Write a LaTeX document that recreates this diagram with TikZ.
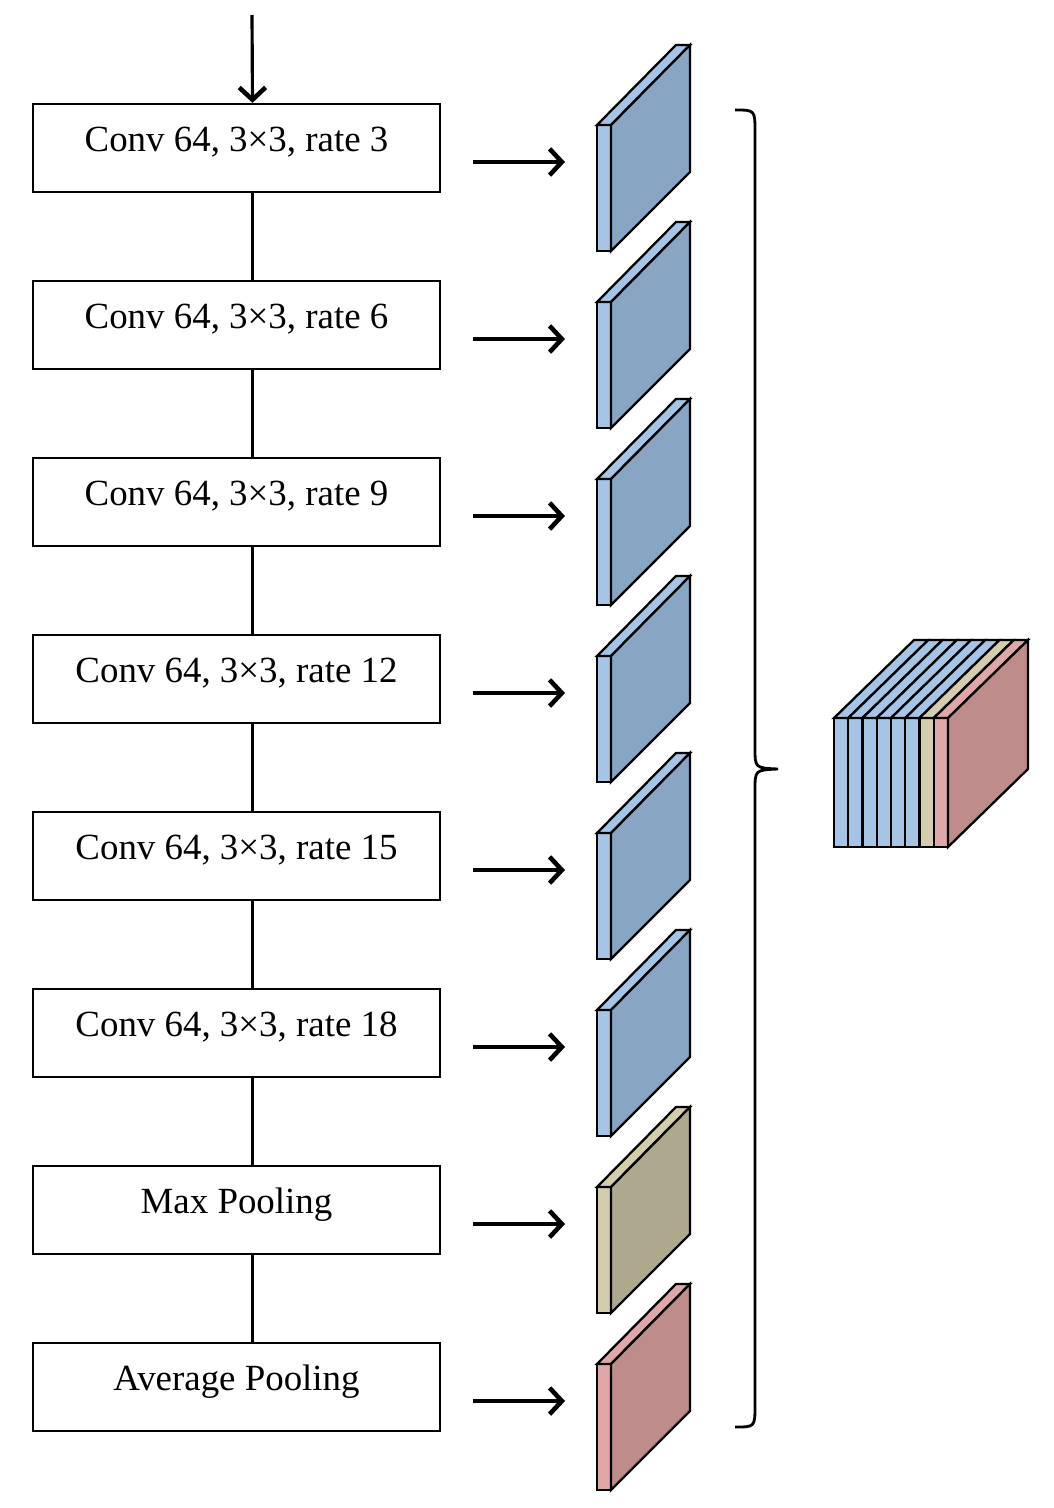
\documentclass[tikz,border=0pt]{standalone}
\usepackage{fontspec}
\setmainfont{Liberation Serif}
\usetikzlibrary{arrows.meta, calc}
\definecolor{slabblue}{RGB}{166,197,230}
\definecolor{slabblueS}{RGB}{136,166,196}
\definecolor{slabtan}{RGB}{211,205,173}
\definecolor{slabtanS}{RGB}{174,168,142}
\definecolor{slabpink}{RGB}{223,167,167}
\definecolor{slabpinkS}{RGB}{190,140,138}

\begin{document}
\begin{tikzpicture}[x=0.02cm, y=-0.02cm,
  layer/.style={draw, line width=1.3pt, minimum width=8.14cm, minimum height=1.76cm,
                inner sep=0pt, text height=14pt, text depth=10pt,
                font=\fontsize{21}{24}\selectfont},
  arr/.style={-{Straight Barb[length=7pt, width=15pt, line width=2.6pt]}, line width=1.8pt},
  link/.style={line width=1.3pt},
  face/.style={draw, line width=1.3pt, line join=miter}
]
  \useasboundingbox (0,0) rectangle (1054,1508);

  %% layers, arrows and output slabs
  \foreach \t/\c [count=\i] in {{Conv 64, 3×3, rate 3}/slabblue,
                                {Conv 64, 3×3, rate 6}/slabblue,
                                {Conv 64, 3×3, rate 9}/slabblue,
                                {Conv 64, 3×3, rate 12}/slabblue,
                                {Conv 64, 3×3, rate 15}/slabblue,
                                {Conv 64, 3×3, rate 18}/slabblue,
                                {Max Pooling}/slabtan,
                                {Average Pooling}/slabpink} {
    \pgfmathsetmacro{\yc}{148+177*(\i-1)}
    \pgfmathsetmacro{\yt}{125+177*(\i-1)}
    \node[layer] (b\i) at (236.5,\yc) {\t};
    % slab: front, top, side
    \fill[\c] (597,\yt) rectangle (611,\yt+126);
    \draw[face, fill=\c] (597,\yt) -- (611,\yt) -- (690,\yt-80) -- (676,\yt-80) -- cycle;
    \draw[face, fill=\c S] (611,\yt) -- (690,\yt-80) -- (690,\yt+47) -- (611,\yt+126) -- cycle;
    \draw[face] (597,\yt) rectangle (611,\yt+126);
    \coordinate (s\i) at (565,\yc+14);
    \coordinate (o\i) at ($(b\i.east)+(32,14)$);
    \draw[arr] (o\i) -- (s\i);
  }

  %% input and links between layers
  \coordinate (in) at (252,15);
  \draw[arr] (in) -- ([xshift=0.32cm]b1.north);
  \foreach \i [evaluate=\i as \j using int(\i+1)] in {1,...,7}
    \draw[link] ([xshift=0.32cm]b\i.south) -- ([xshift=0.32cm]b\j.north);

  %% brace
  \draw[line width=1.6pt] (735,110) .. controls (755,110) .. (755,132) -- (755,748)
    .. controls (755,768) .. (778,769) .. controls (755,770) .. (755,790) -- (755,1405)
    .. controls (755,1427) .. (735,1427);

  %% concatenated block
  \foreach \c [count=\k from 0] in {slabblue,slabblue,slabblue,slabblue,slabblue,slabblue,slabtan,slabpink} {
    \pgfmathsetmacro{\xa}{834+14.25*\k}
    \draw[face, fill=\c] (\xa,718) rectangle (\xa+14.25,847);
    \draw[face, fill=\c] (\xa,718) -- (\xa+14.25,718) -- (\xa+94.25,640) -- (\xa+80,640) -- cycle;
  }
  \draw[face, fill=slabpinkS] (948,718) -- (1028,640) -- (1028,769) -- (948,847) -- cycle;
\end{tikzpicture}
\end{document}
